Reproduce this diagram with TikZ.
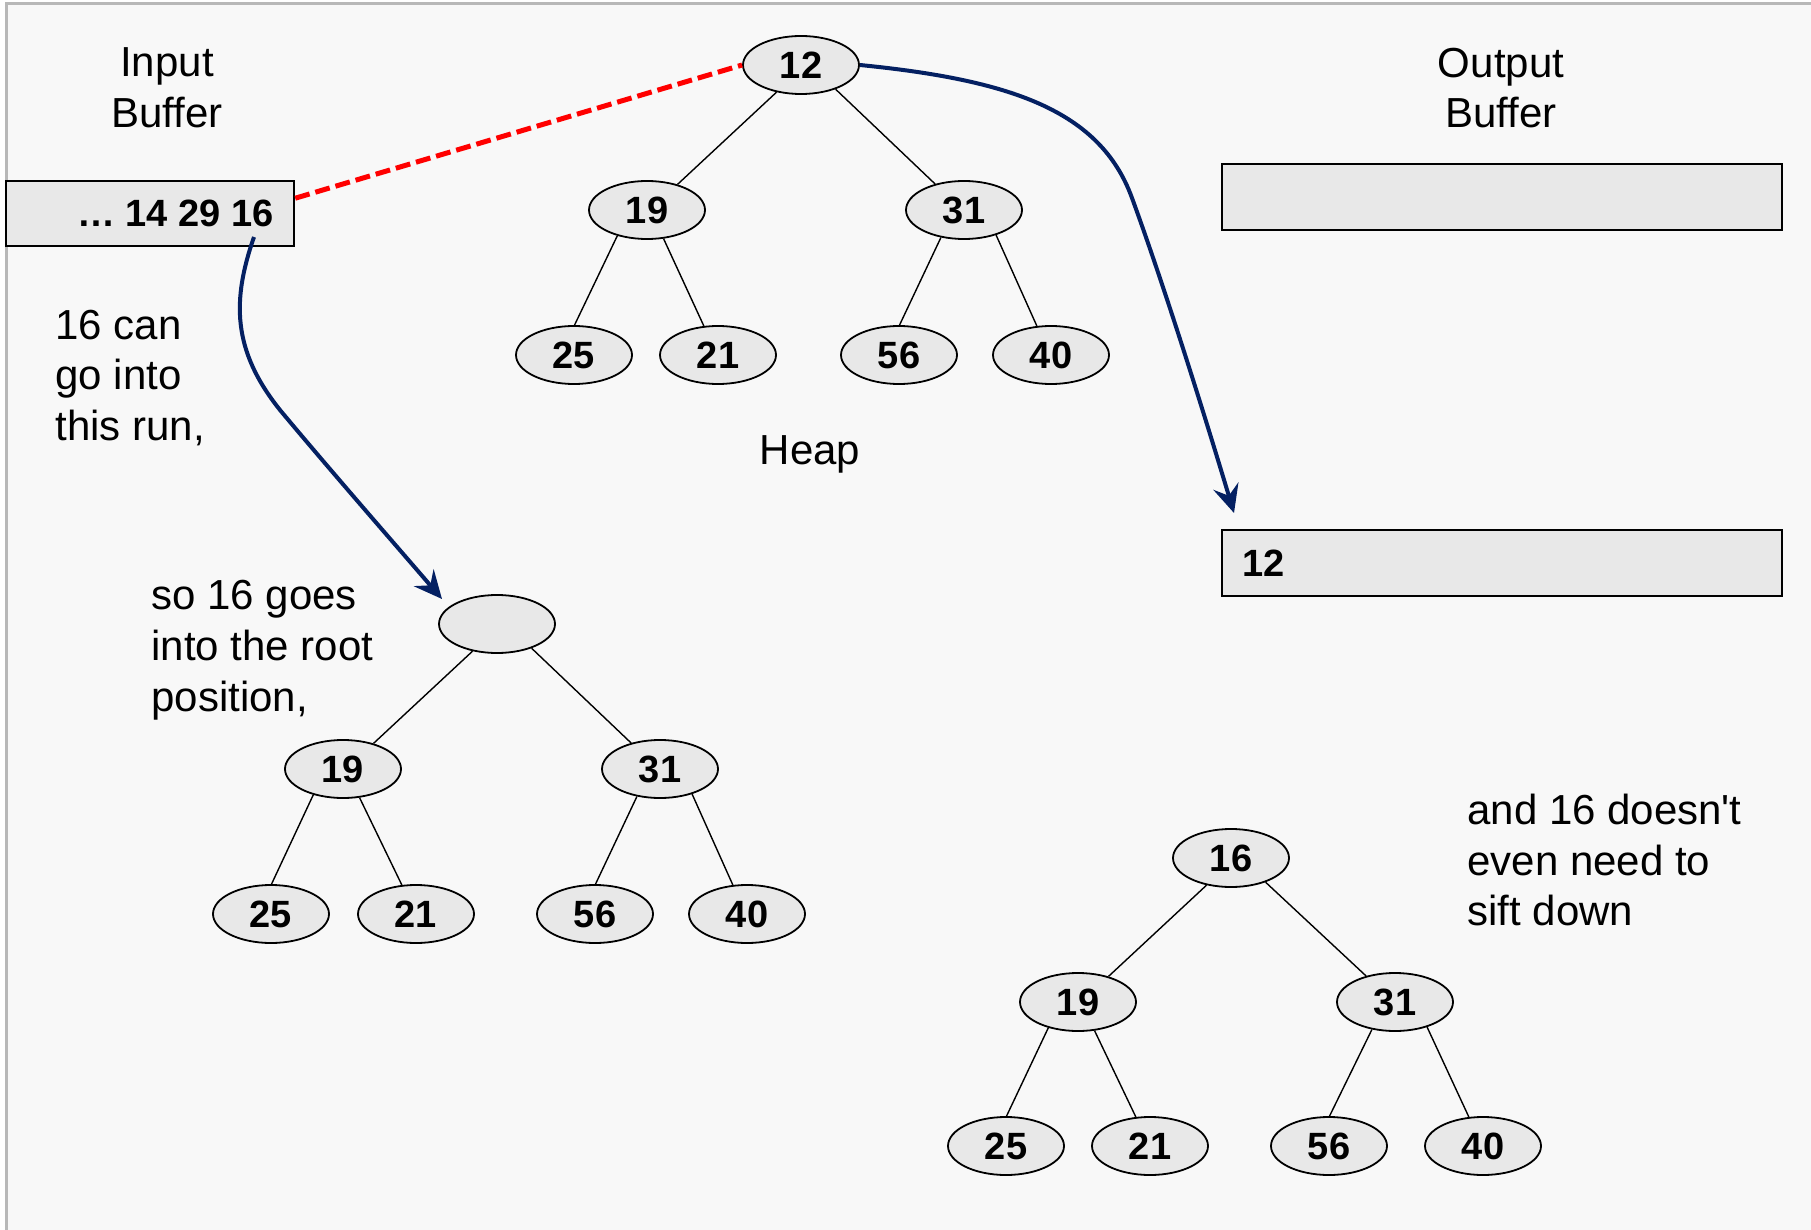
\documentclass[tikz,border=0pt]{standalone}
\usepackage{fontspec}
\setmainfont{Liberation Sans}
\usetikzlibrary{arrows.meta,shapes.geometric}
\definecolor{bg}{HTML}{F8F8F8}
\definecolor{cellfill}{HTML}{E8E8E8}
\definecolor{navy}{RGB}{4,32,98}
\definecolor{framegray}{HTML}{B8B8B8}
\definecolor{dashred}{RGB}{255,0,0}
\begin{document}
\begin{tikzpicture}[x=0.5pt,y=-0.5pt,
  hnode/.style={ellipse,draw=black,line width=0.9pt,fill=cellfill,minimum width=58pt,minimum height=29pt,inner sep=0pt,font=\bfseries\fontsize{19}{22}\selectfont},
  tedge/.style={line width=0.7pt,black},
  bufbox/.style={rectangle,draw=black,line width=1.2pt,fill=cellfill,inner sep=0pt,minimum width=280pt,minimum height=33pt},
  lbl/.style={font=\fontsize{21}{25.4}\selectfont,inner sep=0pt},
  numtxt/.style={font=\bfseries\fontsize{19}{22}\selectfont,inner sep=0pt},
  flow/.style={navy,line width=2pt,-{Stealth[length=14pt,width=13pt,inset=5pt]}},
]
\useasboundingbox (0,0) rectangle (1811,1230);
\fill[white] (0,0) rectangle (1811,1230);
\fill[bg] (6,4) rectangle (1811,1230);
\draw[framegray,line width=1.5pt] (6,1230) -- (6,4) -- (1811,4);

% labels
\node[lbl,align=center] (inlbl) at (167,88) {Input\\Buffer};
\node[lbl,align=center] (outlbl) at (1501,88) {Output\\Buffer};
\node[lbl] (heaplbl) at (810,454) {Heap};
\node[lbl,align=left,anchor=west] (t1) at (55,378) {16 can\\go into\\this run,};
\node[lbl,align=left,anchor=west] (t2) at (151,650) {so 16 goes\\into the root\\position,};
\node[lbl,align=left,anchor=west] (t3) at (1467,860) {and 16 doesn\textquotesingle t\\even need to\\sift down};

% buffers
\node[bufbox,minimum width=144pt,minimum height=32.5pt] (inbuf) at (150,213.5) {};
\node[numtxt,anchor=east] (intext) at (274,213) {\dots\ 14 29 16};
\node[bufbox] (out1) at (1502,197) {};
\node[bufbox] (out2) at (1502,563) {};
\node[numtxt,anchor=west] (outtext) at (1242,563) {12};

% tree 1
\node[hnode] (n12) at (801,65) {12};
\node[hnode] (a19) at (647,210) {19};
\node[hnode] (a31) at (964,210) {31};
\node[hnode] (a25) at (574,355) {25};
\node[hnode] (a21) at (718,355) {21};
\node[hnode] (a56) at (899,355) {56};
\node[hnode] (a40) at (1051,355) {40};
% tree 2
\node[hnode] (b0) at (497,624) {};
\node[hnode] (b19) at (343,769) {19};
\node[hnode] (b31) at (660,769) {31};
\node[hnode] (b25) at (271,914) {25};
\node[hnode] (b21) at (416,914) {21};
\node[hnode] (b56) at (595,914) {56};
\node[hnode] (b40) at (747,914) {40};
% tree 3
\node[hnode] (c16) at (1231,858) {16};
\node[hnode] (c19) at (1078,1002) {19};
\node[hnode] (c31) at (1395,1002) {31};
\node[hnode] (c25) at (1006,1146) {25};
\node[hnode] (c21) at (1150,1146) {21};
\node[hnode] (c56) at (1329,1146) {56};
\node[hnode] (c40) at (1483,1146) {40};

\foreach \r/\l/\rr/\ll/\lr/\rl/\rrr in {n12/a19/a31/a25/a21/a56/a40,
                                       b0/b19/b31/b25/b21/b56/b40,
                                       c16/c19/c31/c25/c21/c56/c40}{
  \draw[tedge] (\r.228) -- (\l.40);
  \draw[tedge] (\r.325) -- (\rr.138);
  \draw[tedge] (\l.221) -- (\ll.89);
  \draw[tedge] (\l.300) -- (\lr.116);
  \draw[tedge] (\rr.230) -- (\rl.89);
  \draw[tedge] (\rr.322) -- (\rrr.116);
}

% connectors
\coordinate (s16) at (254,237);
\coordinate (tip2) at (442,599);
\coordinate (bend1) at (1132,198);
\coordinate (tip1) at (1234,513);
\draw[dashred,line width=2.5pt,dash pattern=on 7.5pt off 3pt] (inbuf.6) -- (n12.west);
\draw[flow] (n12.east) .. controls (1010,80) and (1100,110) .. (bend1)
            .. controls (1162,280) and (1200,400) .. (tip1);
\draw[flow] (s16) .. controls (232,300) and (232,350) .. (280,410)
            .. controls (330,470) and (400,550) .. (tip2);
\end{tikzpicture}
\end{document}
